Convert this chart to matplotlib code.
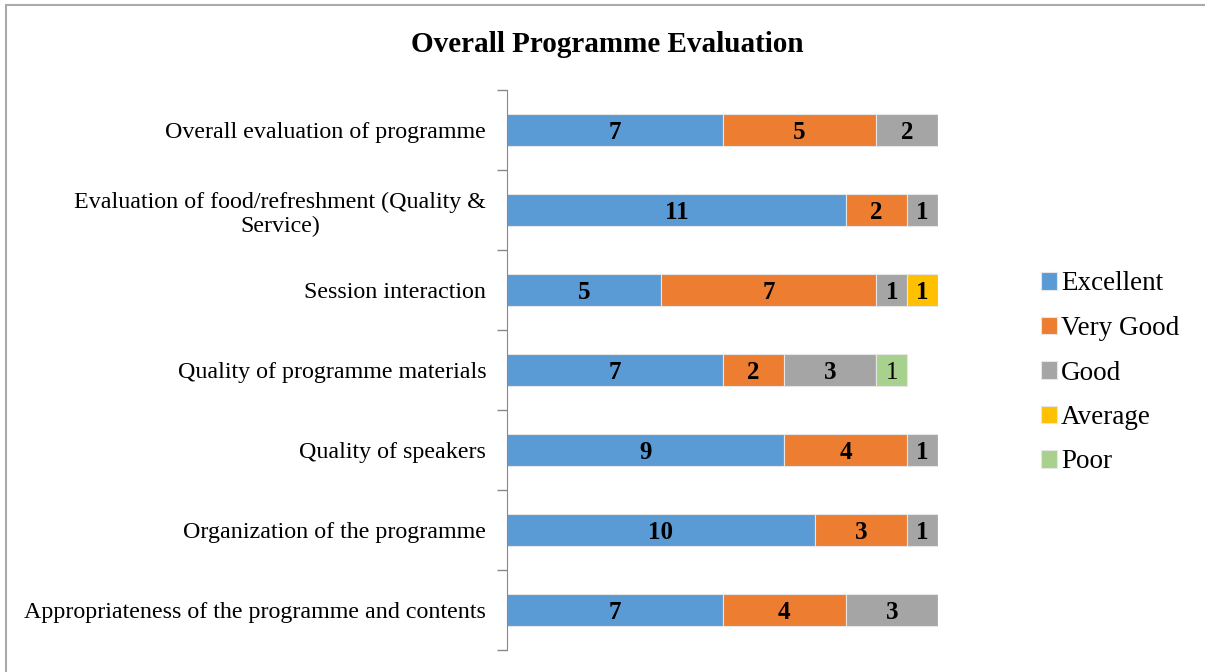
import numpy as np
import matplotlib.pyplot as plt
from matplotlib.patches import Rectangle

plt.rcParams['font.family'] = ['Liberation Serif', 'DejaVu Serif']

categories = [
    "Appropriateness of the programme and contents",
    "Organization of the programme",
    "Quality of speakers",
    "Quality of programme materials",
    "Session interaction",
    "Evaluation of food/refreshment (Quality &\nService)",
    "Overall evaluation of programme",
]
series = ["Excellent", "Very Good", "Good", "Average", "Poor"]
excellent = [7, 10, 9, 7, 5, 11, 7]
very_good = [4, 3, 4, 2, 7, 2, 5]
good = [3, 1, 1, 3, 1, 1, 2]
average = [0, 0, 0, 0, 1, 0, 0]
poor = [0, 0, 0, 1, 0, 0, 0]

colors = ["#5b9bd5", "#ed7d31", "#a5a5a5", "#ffc000", "#a9d18e"]
values = [excellent, very_good, good, average, poor]

W, H = 1205, 672
fig = plt.figure(figsize=(W / 100, H / 100), dpi=100)
ax = fig.add_axes([507 / W, 1 - 650 / H, (938 - 507) / W, (650 - 90) / H])

y = np.arange(len(categories))
left = np.zeros(len(categories))
for name, vals, col in zip(series, values, colors):
    vals = np.array(vals, dtype=float)
    ax.barh(y, vals, left=left, height=0.4, color=col, label=name,
            edgecolor="#e6e6e6", linewidth=0.8)
    for yi, v, l in zip(y, vals, left):
        if v > 0:
            ax.text(l + v / 2, yi - 0.035, f"{int(v)}", ha="center", va="center",
                    fontsize=18, fontweight="normal" if name == "Poor" else "bold",
                    color="black")
    left += vals

ax.set_xlim(0, 14)
ax.set_ylim(-0.5, len(categories) - 0.5)
ax.set_yticks(y)
ax.set_yticklabels(categories, fontsize=17.3, multialignment="center")
ax.set_yticks(np.arange(-0.5, len(categories), 1), minor=True)
ax.tick_params(axis="y", which="major", length=0, pad=15)
ax.tick_params(axis="y", which="minor", length=7, color="#888888", width=1)
ax.set_xticks([])
for s in ["top", "right", "bottom"]:
    ax.spines[s].set_visible(False)
ax.spines["left"].set_color("#888888")

fig.text(607 / W, 1 - 44 / H, "Overall Programme Evaluation", ha="center", va="center",
         fontsize=21, fontweight="bold")

fig.legend(loc="center left", bbox_to_anchor=(1030 / W, 1 - 373 / H), frameon=False,
           fontsize=19.5, handlelength=0.6, handleheight=0.6, handletextpad=0.15,
           labelspacing=0.72, borderaxespad=0)

fig.patches.append(Rectangle((6 / W, -0.1), 1.2, 1 - 5 / H + 0.1, transform=fig.transFigure,
                             fill=False, edgecolor="#aaaaaa", linewidth=1.5))

fig.savefig("out.png", dpi=100)
